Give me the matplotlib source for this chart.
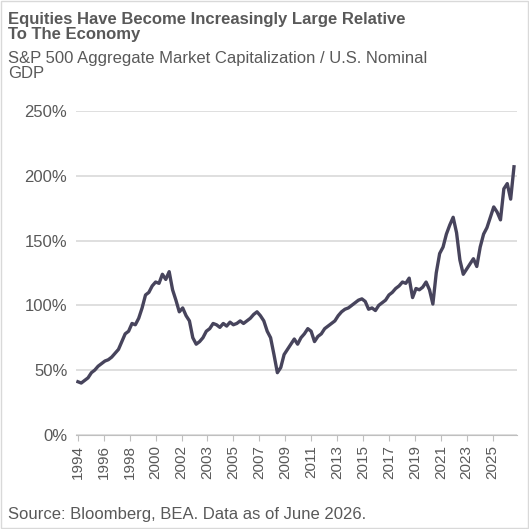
import pandas as pd
import matplotlib
matplotlib.use('Agg')
import matplotlib.pyplot as plt
from matplotlib.patches import Rectangle

plt.rcParams['font.family'] = ['Liberation Sans', 'DejaVu Sans']

# quarterly estimates, 1994Q1 .. 2026Q2 (% of GDP)
dates = pd.date_range('1994-01-01', '2026-04-01', freq='QS')
values = [
    41, 40, 42, 44,
    48, 50, 53, 55,
    57, 58, 60, 63,
    66, 72, 78, 80,
    86, 85, 90, 98,
    108, 110, 115, 118,
    117, 124, 120, 126,
    112, 104, 95, 98,
    92, 88, 75, 70,
    72, 75, 80, 82,
    86, 85, 83, 86,
    84, 87, 85, 86,
    88, 86, 88, 90,
    93, 95, 92, 88,
    80, 75, 62, 48,
    52, 62, 66, 70,
    74, 70, 75, 78,
    82, 80, 72, 76,
    78, 82, 84, 86,
    88, 92, 95, 97,
    98, 100, 102, 104,
    105, 103, 97, 98,
    96, 100, 102, 104,
    108, 110, 113, 115,
    118, 117, 121, 106,
    113, 112, 114, 118,
    112, 101, 125, 140,
    145, 155, 162, 168,
    156, 135, 124, 128,
    132, 136, 130, 145,
    155, 160, 168, 176,
    172, 166, 190, 194,
    182, 207,
]
tick_labels = ['1994', '1996', '1998', '2000', '2002', '2003', '2005', '2007', '2009',
               '2011', '2013', '2015', '2017', '2019', '2021', '2023', '2025']
tick_dates = [pd.Timestamp('1994-01-01') + pd.DateOffset(months=23 * i) for i in range(len(tick_labels))]

grey = '#595959'
fig = plt.figure(figsize=(5.29, 5.29), dpi=100)
ax = fig.add_axes([0.143, 0.178, 0.835, 0.612])
ax.plot(dates, values, color='#47445c', linewidth=2.4)

ax.set_ylim(0, 250)
ax.set_yticks(range(0, 251, 50))
ax.set_yticklabels([f'{v}%' for v in range(0, 251, 50)], fontsize=12, color=grey)
ax.set_xlim(pd.Timestamp('1993-11-01'), pd.Timestamp('2026-07-01'))
ax.set_xticks(tick_dates)
ax.set_xticklabels(tick_labels, rotation=90, fontsize=11, color=grey)
ax.grid(axis='y', color='#d9d9d9', linewidth=1.2)
ax.set_axisbelow(True)
for s in ['top', 'right', 'left']:
    ax.spines[s].set_visible(False)
ax.spines['bottom'].set_color('#bfbfbf')
ax.tick_params(axis='y', length=0, pad=6)
ax.tick_params(axis='x', length=4, color='#bfbfbf')

fig.text(0.015, 0.978, 'Equities Have Become Increasingly Large Relative\nTo The Economy',
         fontsize=12, fontweight='bold', color=grey, va='top', linespacing=1.0)
fig.text(0.015, 0.903, 'S&P 500 Aggregate Market Capitalization / U.S. Nominal\nGDP',
         fontsize=12, color=grey, va='top', linespacing=1.0)
fig.text(0.015, 0.018, 'Source: Bloomberg, BEA. Data as of June 2026.', fontsize=12, color=grey)
fig.patches.append(Rectangle((0.002, 0.002), 0.996, 0.996, transform=fig.transFigure,
                             fill=False, edgecolor='#d9d9d9', linewidth=1))

fig.savefig('out.png', dpi=100)
